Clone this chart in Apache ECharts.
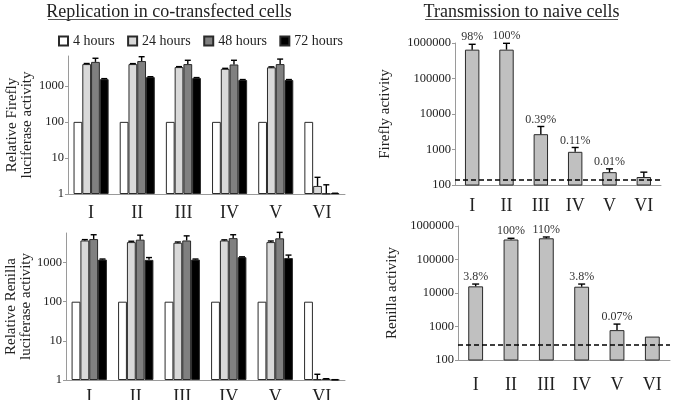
<!DOCTYPE html>
<html><head><meta charset="utf-8">
<script src="https://cdn.jsdelivr.net/npm/echarts@6/dist/echarts.min.js"></script>
<style>html,body{margin:0;padding:0;background:#fff}#c{width:678px;height:400px}</style>
</head><body><div id="c"></div>
<script>
// ---------- data ----------
const categories = ['I','II','III','IV','V','VI'];
const seriesNames = ['4 hours','24 hours','48 hours','72 hours'];

// Replication, Firefly (top-left)
const ffRep4  = [100,100,100,100,100,100];
const ffRep24 = [4000,4000,3300,2950,3250,1.67];
const ffRep48 = [4600,4850,4000,3900,4000,1.03];
const ffRep72 = [1530,1740,1640,1450,1450,1.05];
const ffRep24Err = [4150,4120,3400,3050,3350,2.9];
const ffRep48Err = [5800,6400,5100,5100,5500,1.8];
const ffRep72Err = [1580,1790,1690,1490,1490,1.05];

// Replication, Renilla (bottom-left)
const rlRep4  = [100,100,100,100,100,100];
const rlRep24 = [3660,3330,3200,3660,3330,1.05];
const rlRep48 = [3980,3840,3660,4200,4150,1.08];
const rlRep72 = [1190,1170,1190,1370,1300,1.02];
const rlRep24Err = [3850,3500,3350,3800,3550,1.4];
const rlRep48Err = [5130,5000,4800,5130,5900,1.08];
const rlRep72Err = [1230,1340,1230,1400,1550,1.02];

// Transmission, Firefly (top-right)
const ffTrans    = [650000,650000,2700,860,230,168];
const ffTransErr = [920000,980000,4450,1140,285,230];
const ffTransLbl = ['98%','100%','0.39%','0.11%','0.01%',''];
const ffThreshold = 145;

// Transmission, Renilla (bottom-right)
const rlTrans    = [15800,395000,430000,15400,780,500];
const rlTransErr = [18500,430000,470000,18500,1180,500];
const rlTransLbl = ['3.8%','100%','110%','3.8%','0.07%',''];
const rlThreshold = 295;

// ---------- chart ----------
const FONT = 'Liberation Serif';
const AXC = '#9a9a9a';
const CATGAP = 0.24;
const fills = ['#ffffff','#d9d9d9','#808080','#000000'];

function yAx(grid, min, max, name, gap, showMax){
  return {type:'log', logBase:10, gridIndex:grid, min:min, max:max,
    name:name, nameLocation:'middle', nameRotate:90, nameGap:gap,
    nameTextStyle:{fontFamily:FONT, fontSize:15, color:'#222', lineHeight:15},
    axisLine:{show:true, lineStyle:{color:AXC}}, axisTick:{show:true, length:3, lineStyle:{color:AXC}},
    splitLine:{show:false}, minorTick:{show:false},
    axisLabel:{fontFamily:FONT, fontSize:12.5, color:'#222', margin:4, showMaxLabel:showMax,
      formatter:v=>String(Math.round(v))}};
}
function xAx(grid, margin){
  return {type:'category', gridIndex:grid, data:categories,
    axisLine:{onZero:false, lineStyle:{color:AXC}}, axisTick:{length:3, lineStyle:{color:AXC}},
    axisLabel:{fontFamily:FONT, fontSize:18, color:'#222', margin:margin}};
}

function groupErr(params, api){
  const cat = api.value(0), k = api.value(1), lo = api.value(2), hi = api.value(3);
  const p = api.coord([cat, lo]), q = api.coord([cat, hi]);
  const band = api.coord([1, lo])[0] - api.coord([0, lo])[0];
  const gw = band*(1-CATGAP), bw = gw/4;
  const x = p[0] - gw/2 + bw*(k+0.5);
  const st = {stroke:'#000', lineWidth:1.4};
  return {type:'group', children:[
    {type:'line', shape:{x1:x,y1:p[1],x2:x,y2:q[1]}, style:st},
    {type:'line', shape:{x1:x-3,y1:q[1],x2:x+3,y2:q[1]}, style:st}]};
}
function makeSingleErr(labels){
  return function(params, api){
    const cat = api.value(0), lo = api.value(1), hi = api.value(2);
    const p = api.coord([cat, lo]), q = api.coord([cat, hi]);
    const st = {stroke:'#000', lineWidth:1.4};
    const ch = [];
    if (hi > lo) {
      ch.push({type:'line', shape:{x1:p[0],y1:p[1],x2:p[0],y2:q[1]}, style:st});
      ch.push({type:'line', shape:{x1:p[0]-3.5,y1:q[1],x2:p[0]+3.5,y2:q[1]}, style:st});
    }
    const t = labels[params.dataIndex];
    if (t) ch.push({type:'text', x:p[0], y:q[1]-1, style:{text:t, font:'12px "Liberation Serif"',
      fill:'#333', align:'center', verticalAlign:'bottom'}});
    return {type:'group', children:ch};
  };
}

function errData(vals, errs, k){
  return vals.map((v,i)=>[i,k,v,errs[i]]);
}

const series = [];
const leftSets = [
  {grid:0, vals:[ffRep4,ffRep24,ffRep48,ffRep72], errs:[null,ffRep24Err,ffRep48Err,ffRep72Err]},
  {grid:1, vals:[rlRep4,rlRep24,rlRep48,rlRep72], errs:[null,rlRep24Err,rlRep48Err,rlRep72Err]}
];
leftSets.forEach(s=>{
  s.vals.forEach((v,k)=>{
    series.push({type:'bar', name:seriesNames[k], xAxisIndex:s.grid, yAxisIndex:s.grid,
      data:v, barGap:'0%', barCategoryGap:(CATGAP*100)+'%', clip:true,
      itemStyle:{color:fills[k], borderColor:'#2a2a2a', borderWidth:1}, emphasis:{disabled:true}});
  });
  let ed = [];
  s.errs.forEach((e,k)=>{ if(e) ed = ed.concat(errData(s.vals[k], e, k)); });
  series.push({type:'custom', xAxisIndex:s.grid, yAxisIndex:s.grid, renderItem:groupErr,
    data:ed, encode:{x:0, y:3}, z:5, silent:true});
});

const rightSets = [
  {grid:2, vals:ffTrans, errs:ffTransErr, lbl:ffTransLbl, th:ffThreshold},
  {grid:3, vals:rlTrans, errs:rlTransErr, lbl:rlTransLbl, th:rlThreshold}
];
rightSets.forEach(s=>{
  series.push({type:'bar', name:'trans'+s.grid, xAxisIndex:s.grid, yAxisIndex:s.grid,
    data:s.vals, barWidth:'42%', clip:true,
    itemStyle:{color:'#c0c0c0', borderColor:'#2a2a2a', borderWidth:1}, emphasis:{disabled:true},
    markLine:{silent:true, symbol:'none', label:{show:false},
      lineStyle:{color:'#000', type:[5,3], width:1.5}, data:[{yAxis:s.th}]}});
  series.push({type:'custom', xAxisIndex:s.grid, yAxisIndex:s.grid, renderItem:makeSingleErr(s.lbl),
    data:s.vals.map((v,i)=>[i,v,s.errs[i]]),
    encode:{x:0, y:2}, z:5, silent:true});
});

const chart = echarts.init(document.getElementById('c'), null, {renderer:'canvas'});
chart.setOption({
  animation:false,
  backgroundColor:'#fff',
  grid:[
    {left:68, top:56, width:277, height:138, containLabel:false, outerBoundsMode:'none'},
    {left:66, top:233, width:279, height:147, containLabel:false, outerBoundsMode:'none'},
    {left:455, top:43, width:206, height:142, containLabel:false, outerBoundsMode:'none'},
    {left:458, top:226, width:212, height:134, containLabel:false, outerBoundsMode:'none'}
  ],
  xAxis:[xAx(0,10), xAx(1,8), xAx(2,12), xAx(3,16)],
  yAxis:[
    yAx(0,1,6700,'Relative Firefly\nluciferase activity',33,false),
    yAx(1,1,5680,'Relative Renilla\nluciferase activity',31,false),
    yAx(2,100,1000000,'Firefly activity',62,true),
    yAx(3,100,1000000,'Renilla activity',58,true)
  ],
  legend:{data:seriesNames, left:53, top:29, itemWidth:9, itemHeight:9, itemGap:12.5,
    icon:'rect', selectedMode:false,
    textStyle:{fontFamily:FONT, fontSize:14, color:'#222'}},
  graphic:[
    {type:'text', x:169, y:12.5, style:{text:'Replication in co-transfected cells',
      font:'18px "Liberation Serif"', fill:'#222', align:'center', verticalAlign:'middle'}},
    {type:'line', shape:{x1:48,y1:19.5,x2:290,y2:19.5}, style:{stroke:'#555', lineWidth:1}},
    {type:'text', x:521.5, y:12.5, style:{text:'Transmission to naive cells',
      font:'18px "Liberation Serif"', fill:'#222', align:'center', verticalAlign:'middle'}},
    {type:'line', shape:{x1:425,y1:19.5,x2:618,y2:19.5}, style:{stroke:'#555', lineWidth:1}}
  ],
  series:series
});
</script></body></html>
